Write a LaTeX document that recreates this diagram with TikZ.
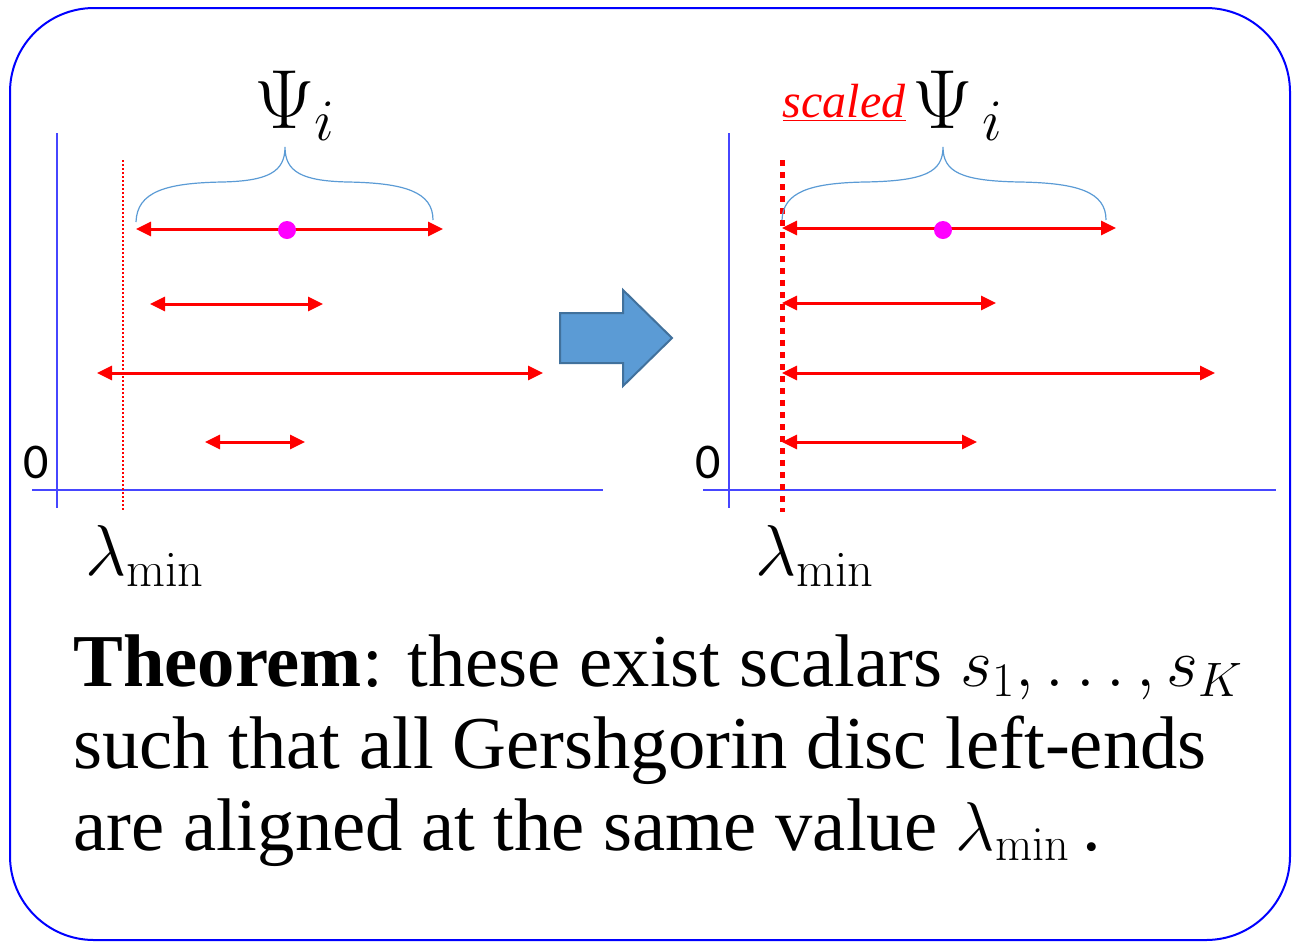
\RequirePackage{fix-cm}
\documentclass[tikz,border=0pt]{standalone}
\usepackage[no-math]{fontspec}
\setmainfont{Liberation Serif}
\newfontfamily\zerofont{Carlito}
\usetikzlibrary{arrows.meta}
\definecolor{boxblue}{RGB}{0,0,255}
\definecolor{axisblue}{RGB}{70,70,255}
\definecolor{brcblue}{RGB}{91,155,213}
\definecolor{arrowedge}{RGB}{65,113,156}
\definecolor{dotpink}{RGB}{255,0,255}
\newcommand\mathsz[1]{{\fontsize{34.5}{40}\selectfont #1}}

\begin{document}
\begin{tikzpicture}[x=0.5pt, y=-0.5pt,
	frame/.style={draw=boxblue, line width=1pt, rounded corners=42pt},
	axisline/.style={axisblue, line width=0.7pt},
	interval/.style={red, line width=1.5pt, {Triangle[length=7.5pt,width=7pt]}-{Triangle[length=7.5pt,width=7pt]}},
	brcurve/.style={brcblue, line width=0.6pt},
	centre/.style={fill=dotpink, circle, inner sep=0pt, minimum size=9pt},
	zerolab/.style={font=\zerofont\fontsize{25}{30}\selectfont, inner sep=0pt},
	lamlab/.style={font=\fontsize{36}{42}\selectfont, inner sep=0pt},
	psilab/.style={font=\fontsize{42}{50}\selectfont, inner sep=0pt},
	thmline/.style={font=\fontsize{37.3}{43}\selectfont, anchor=base west, inner sep=0pt}]
		\useasboundingbox (0,0) rectangle (1294,943);
		\draw[frame] (10,8) rectangle (1290,940);
		
		% left panel
		\draw[axisline] (57,133) -- (57,508);
		\draw[axisline] (32,490) -- (603,490);
		\node[zerolab] (zeroL) at (36,462) {0};
		\draw[red, line width=0.8pt, dash pattern=on 1pt off 1pt] (123,160) -- (123,512);
		\node[lamlab] (lamL) at (145,556) {$\lambda_{\min}$};
		\draw[brcurve] (136,222) .. controls (137,192) and (165,183) .. (222,182)
			.. controls (268,181) and (285,172) .. (285,147)
			.. controls (285,172) and (302,181) .. (348,182)
			.. controls (405,183) and (433,192) .. (433,220);
		\node[psilab] (psiL) at (295,106) {$\Psi_i$};
		\foreach \l/\y/\r in {136/229/443, 150/304/323, 97/373/543, 205/442/305}
			\draw[interval] (\l,\y) -- (\r,\y);
		\node[centre] (midL) at (287,230) {};
		
		% arrow
		\draw[fill=brcblue, draw=arrowedge, line width=1pt] (560,313) -- (623,313) -- (623,290)
			-- (672,338) -- (623,386) -- (623,363) -- (560,363) -- cycle;
		
		% right panel
		\draw[axisline] (729,133) -- (729,508);
		\draw[axisline] (703,490) -- (1276,490);
		\node[zerolab] (zeroR) at (708,462) {0};
		\draw[red, line width=2.5pt, dash pattern=on 3pt off 3pt] (782,160) -- (782,512);
		\node[lamlab] (lamR) at (815,556) {$\lambda_{\min}$};
		\draw[brcurve] (782,220) .. controls (783,192) and (810,183) .. (865,182)
			.. controls (925,181) and (943,172) .. (943,147)
			.. controls (943,172) and (961,181) .. (1020,182)
			.. controls (1078,183) and (1106,192) .. (1106,220);
		\node[psilab] (psiR) at (958,106) {$\Psi_{\,i}$};
		\node[font=\fontsize{24}{28}\selectfont, text=red, anchor=base east, inner sep=0pt] (scl) at (906,117) {\underline{\textit{scaled}}};
		\foreach \y/\r in {228/1116, 303/996, 373/1215, 442/977}
			\draw[interval] (782,\y) -- (\r,\y);
		\node[centre] (midR) at (943,230) {};
		
		% theorem
		\node[thmline] (thm1) at (73,686) {\textbf{Theorem}: these exist scalars \mathsz{$s_1,\ldots,s_K$}};
		\node[thmline] (thm2) at (73,768) {such that all Gershgorin disc left-ends};
		\node[thmline] (thm3) at (73,850) {are aligned at the same value \mathsz{$\lambda_{\min}$}\,.};
\end{tikzpicture}
\end{document}
